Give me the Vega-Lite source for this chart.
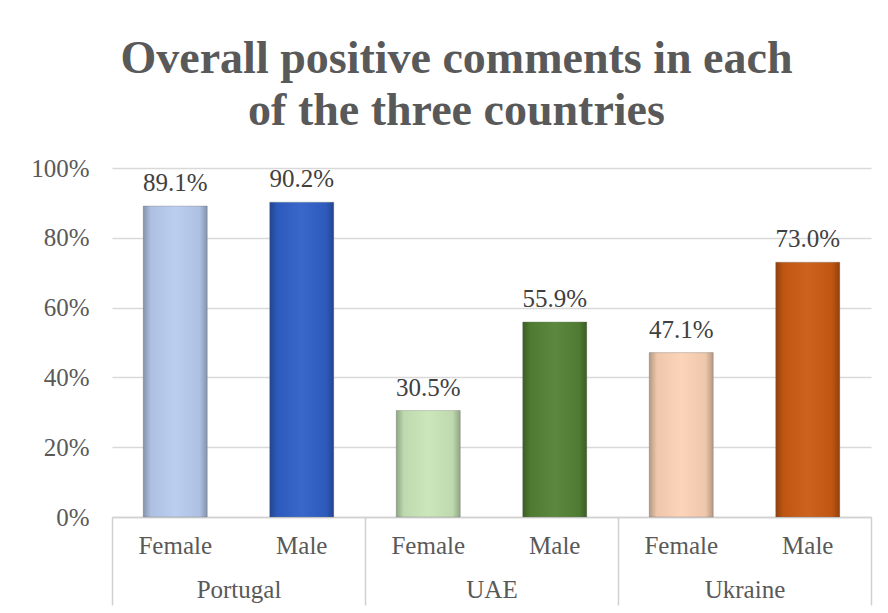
{
  "$schema": "https://vega.github.io/schema/vega-lite/v6.json",
  "autosize": "none",
  "padding": {"left": 112, "top": 168, "right": 17, "bottom": 96},
  "width": 759,
  "height": 349,
  "background": "white",
  "title": {
    "text": ["Overall positive comments in each", "of the three countries"],
    "font": "Liberation Serif",
    "fontSize": 46,
    "fontWeight": "bold",
    "color": "#595959",
    "anchor": "middle",
    "dx": -35,
    "offset": 21,
    "lineHeight": 52
  },
  "data": {
    "values": [
      {"country": "Portugal", "gender": "Female", "bar": "Portugal Female", "value": 0.891},
      {"country": "Portugal", "gender": "Male", "bar": "Portugal Male", "value": 0.902},
      {"country": "UAE", "gender": "Female", "bar": "UAE Female", "value": 0.305},
      {"country": "UAE", "gender": "Male", "bar": "UAE Male", "value": 0.559},
      {"country": "Ukraine", "gender": "Female", "bar": "Ukraine Female", "value": 0.471},
      {"country": "Ukraine", "gender": "Male", "bar": "Ukraine Male", "value": 0.730}
    ]
  },
  "encoding": {
    "x": {
      "field": "country",
      "type": "nominal",
      "sort": ["Portugal", "UAE", "Ukraine"],
      "scale": {"paddingInner": 0, "paddingOuter": 0},
      "axis": {
        "title": null,
        "labelAngle": 0,
        "labelFont": "Liberation Serif",
        "labelFontSize": 25,
        "labelColor": "#595959",
        "tickBand": "extent",
        "tickSize": 88,
        "tickColor": "#d0d0d0",
        "tickWidth": 1.5,
        "domainColor": "#d0d0d0",
        "domainWidth": 1.5,
        "labelPadding": -8,
        "labelBaseline": "alphabetic"
      }
    },
    "xOffset": {
      "field": "gender",
      "type": "nominal",
      "sort": ["Female", "Male"],
      "scale": {"paddingInner": 0.494, "paddingOuter": 0.247}
    }
  },
  "layer": [
    {
      "mark": {"type": "bar", "stroke": "#7f7f7f", "strokeOpacity": 0.35, "strokeWidth": 1},
      "encoding": {
        "y": {
          "field": "value",
          "type": "quantitative",
          "scale": {"domain": [0, 1]},
          "axis": {
            "title": null,
            "format": "%",
            "values": [0, 0.2, 0.4, 0.6, 0.8, 1],
            "labelOverlap": false,
            "labelFont": "Liberation Serif",
            "labelFontSize": 25,
            "labelColor": "#595959",
            "labelPadding": 23,
            "ticks": false,
            "domain": false,
            "gridColor": "#d9d9d9",
            "gridWidth": 1.5
          }
        },
        "color": {
          "field": "bar",
          "type": "nominal",
          "legend": null,
          "scale": {
            "domain": ["Portugal Female", "Portugal Male", "UAE Female", "UAE Male", "Ukraine Female", "Ukraine Male"],
            "range": ["#b7cbee", "#2f5fc6", "#c9e5b8", "#538234", "#fbd2b5", "#c95a12"]
          }
        }
      }
    },
    {
      "mark": {
        "type": "bar",
        "fill": {
          "gradient": "linear",
          "x1": 0, "y1": 0, "x2": 1, "y2": 0,
          "stops": [
            {"offset": 0, "color": "rgba(0,0,0,0.28)"},
            {"offset": 0.12, "color": "rgba(0,0,0,0.05)"},
            {"offset": 0.5, "color": "rgba(255,255,255,0.05)"},
            {"offset": 0.88, "color": "rgba(0,0,0,0.05)"},
            {"offset": 1, "color": "rgba(0,0,0,0.28)"}
          ]
        }
      },
      "encoding": {
        "y": {"field": "value", "type": "quantitative"}
      }
    },
    {
      "mark": {
        "type": "text",
        "baseline": "alphabetic",
        "dy": -15,
        "font": "Liberation Serif",
        "fontSize": 25,
        "color": "#404040"
      },
      "encoding": {
        "y": {"field": "value", "type": "quantitative"},
        "text": {"field": "value", "type": "quantitative", "format": ".1%"}
      }
    },
    {
      "mark": {
        "type": "text",
        "baseline": "alphabetic",
        "dy": 37,
        "font": "Liberation Serif",
        "fontSize": 25,
        "color": "#595959"
      },
      "encoding": {
        "y": {"datum": 0, "type": "quantitative"},
        "text": {"field": "gender", "type": "nominal"}
      }
    }
  ],
  "config": {"view": {"stroke": null}}
}
